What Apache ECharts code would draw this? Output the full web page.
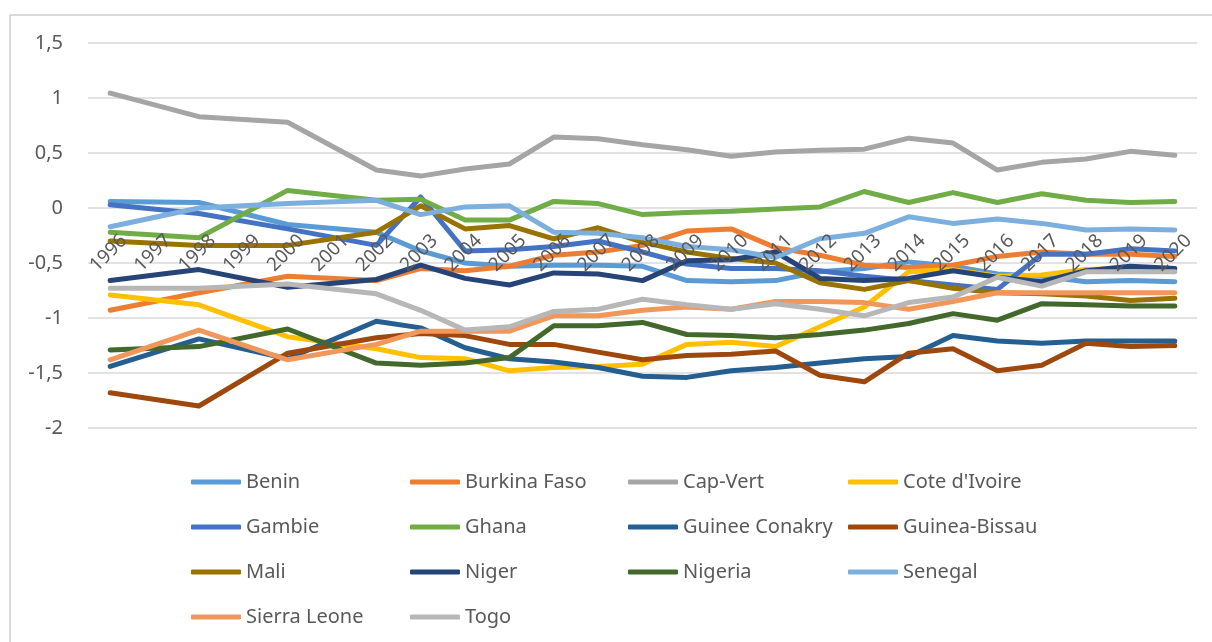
<!DOCTYPE html>
<html>
<head>
<meta charset="utf-8">
<script src="https://cdn.jsdelivr.net/npm/echarts@6/dist/echarts.min.js"></script>
<style>
  html, body { margin: 0; padding: 0; background: #fff; }
  #chart { width: 1212px; height: 642px; }
</style>
</head>
<body>
<div id="chart"></div>
<script>
// years on the category axis (1997, 1999, 2001 have no data)
const years = ['1996', '1997', '1998', '1999', '2000', '2001', '2002', '2003', '2004', '2005', '2006', '2007', '2008',
  '2009', '2010', '2011', '2012', '2013', '2014', '2015', '2016', '2017', '2018', '2019', '2020'];

const benin = [0.06, null, 0.05, null, -0.15, null, -0.22, -0.39, -0.50, -0.53, -0.52, -0.52, -0.53,
  -0.66, -0.67, -0.66, -0.58, -0.55, -0.49, -0.53, -0.60, -0.62, -0.67, -0.66, -0.67];
const burkinaFaso = [-0.93, null, -0.77, null, -0.62, null, -0.66, -0.55, -0.57, -0.53, -0.43, -0.40, -0.34,
  -0.21, -0.19, -0.36, -0.43, -0.52, -0.54, -0.52, -0.44, -0.40, -0.42, -0.42, -0.44];
const capVert = [1.045, null, 0.83, null, 0.78, null, 0.345, 0.29, 0.355, 0.40, 0.645, 0.63, 0.575,
  0.53, 0.47, 0.51, 0.525, 0.535, 0.635, 0.59, 0.345, 0.415, 0.445, 0.515, 0.48];
const coteIvoire = [-0.79, null, -0.88, null, -1.17, null, -1.28, -1.36, -1.37, -1.48, -1.45, -1.44, -1.42,
  -1.24, -1.22, -1.26, -1.08, -0.90, -0.58, -0.56, -0.62, -0.61, -0.56, -0.55, -0.56];
const gambie = [0.03, null, -0.05, null, -0.19, null, -0.34, 0.10, -0.39, -0.38, -0.35, -0.30, -0.40,
  -0.51, -0.55, -0.55, -0.57, -0.62, -0.66, -0.70, -0.74, -0.42, -0.42, -0.37, -0.39];
const ghana = [-0.22, null, -0.27, null, 0.16, null, 0.07, 0.08, -0.11, -0.11, 0.06, 0.04, -0.06,
  -0.04, -0.03, -0.01, 0.01, 0.15, 0.05, 0.14, 0.05, 0.13, 0.07, 0.05, 0.06];
const guineeConakry = [-1.44, null, -1.19, null, -1.37, null, -1.03, -1.09, -1.27, -1.37, -1.40, -1.45, -1.53,
  -1.54, -1.48, -1.45, -1.41, -1.37, -1.35, -1.16, -1.21, -1.23, -1.21, -1.21, -1.21];
const guineaBissau = [-1.68, null, -1.80, null, -1.32, null, -1.18, -1.14, -1.16, -1.24, -1.24, -1.31, -1.38,
  -1.34, -1.33, -1.30, -1.52, -1.58, -1.32, -1.28, -1.48, -1.43, -1.23, -1.26, -1.25];
const mali = [-0.30, null, -0.34, null, -0.34, null, -0.22, 0.02, -0.19, -0.16, -0.28, -0.18, -0.31,
  -0.40, -0.46, -0.50, -0.68, -0.74, -0.66, -0.73, -0.77, -0.78, -0.80, -0.84, -0.82];
const niger = [-0.66, null, -0.56, null, -0.72, null, -0.65, -0.52, -0.64, -0.70, -0.59, -0.60, -0.66,
  -0.48, -0.47, -0.40, -0.64, -0.66, -0.64, -0.57, -0.63, -0.67, -0.57, -0.53, -0.55];
const nigeria = [-1.29, null, -1.26, null, -1.10, null, -1.41, -1.43, -1.41, -1.36, -1.07, -1.07, -1.04,
  -1.15, -1.16, -1.18, -1.15, -1.11, -1.05, -0.96, -1.02, -0.87, -0.88, -0.89, -0.89];
const senegal = [-0.17, null, 0.0, null, 0.04, null, 0.07, -0.06, 0.01, 0.02, -0.22, -0.23, -0.27,
  -0.35, -0.38, -0.45, -0.28, -0.23, -0.08, -0.14, -0.10, -0.14, -0.20, -0.19, -0.20];
const sierraLeone = [-1.38, null, -1.11, null, -1.38, null, -1.24, -1.12, -1.12, -1.12, -0.98, -0.98, -0.93,
  -0.90, -0.92, -0.85, -0.85, -0.86, -0.92, -0.85, -0.77, -0.77, -0.77, -0.77, -0.77];
const togo = [-0.73, null, -0.73, null, -0.69, null, -0.78, -0.93, -1.11, -1.08, -0.94, -0.92, -0.83,
  -0.88, -0.92, -0.87, -0.92, -0.98, -0.86, -0.81, -0.63, -0.71, -0.58, -0.58, -0.58];

const countries = [
  { name: 'Benin', data: benin, color: '#5B9BD5' },
  { name: 'Burkina Faso', data: burkinaFaso, color: '#ED7D31' },
  { name: 'Cap-Vert', data: capVert, color: '#A5A5A5' },
  { name: "Cote d'Ivoire", data: coteIvoire, color: '#FFC000' },
  { name: 'Gambie', data: gambie, color: '#4472C4' },
  { name: 'Ghana', data: ghana, color: '#70AD47' },
  { name: 'Guinee Conakry', data: guineeConakry, color: '#255E91' },
  { name: 'Guinea-Bissau', data: guineaBissau, color: '#9E480E' },
  { name: 'Mali', data: mali, color: '#997300' },
  { name: 'Niger', data: niger, color: '#264478' },
  { name: 'Nigeria', data: nigeria, color: '#43682B' },
  { name: 'Senegal', data: senegal, color: '#7CAFDD' },
  { name: 'Sierra Leone', data: sierraLeone, color: '#F1975A' },
  { name: 'Togo', data: togo, color: '#B7B7B7' }
];

const font = 'Noto Sans';
const textColor = '#595959';
const gridColor = '#d9d9d9';

// legend in 4 columns, one legend per column so the columns line up
const legendColumns = [
  { left: 186, names: ['Benin', 'Gambie', 'Mali', 'Sierra Leone'] },
  { left: 405, names: ['Burkina Faso', 'Ghana', 'Niger', 'Togo'] },
  { left: 623, names: ['Cap-Vert', 'Guinee Conakry', 'Nigeria'] },
  { left: 843, names: ["Cote d'Ivoire", 'Guinea-Bissau', 'Senegal'] }
];

const chart = echarts.init(document.getElementById('chart'));

const option = {
  animation: false,
  backgroundColor: '#fff',
  color: countries.map(c => c.color),
  grid: { left: 88, right: 15, top: 43, bottom: 214 },
  graphic: [
    { type: 'line', shape: { x1: 10, y1: 15, x2: 1212, y2: 15 }, style: { stroke: gridColor, lineWidth: 2 } },
    { type: 'line', shape: { x1: 10, y1: 15, x2: 10, y2: 642 }, style: { stroke: gridColor, lineWidth: 2 } }
  ],
  legend: legendColumns.map(col => ({
    orient: 'vertical',
    left: col.left,
    top: 466,
    data: col.names,
    icon: 'roundRect',
    itemWidth: 50,
    itemHeight: 5,
    itemGap: 23,
    textStyle: { fontFamily: font, fontSize: 20, color: textColor, lineHeight: 22 }
  })),
  xAxis: {
    type: 'category',
    data: years,
    boundaryGap: true,
    // axis sits on the zero line (-2 .. 0 is 220px of the grid), labels above the lines
    offset: -220,
    z: 5,
    axisLine: { show: false, onZero: false },
    axisTick: { show: false },
    axisLabel: {
      interval: 0,
      rotate: 45,
      margin: 16,
      align: 'right',
      verticalAlign: 'top',
      padding: [10, 0, 0, 0],
      fontFamily: font,
      fontSize: 19,
      color: textColor
    }
  },
  yAxis: {
    type: 'value',
    min: -2,
    max: 1.5,
    interval: 0.5,
    axisLine: { show: false },
    axisTick: { show: false },
    splitLine: { lineStyle: { color: gridColor, width: 1.5 } },
    axisLabel: {
      margin: 25,
      fontFamily: font,
      fontSize: 20,
      color: textColor,
      formatter: v => String(v).replace('.', ',')
    }
  },
  series: countries.map(c => ({
    name: c.name,
    type: 'line',
    data: c.data,
    connectNulls: true,
    showSymbol: false,
    symbol: 'none',
    z: 3,
    lineStyle: { width: 5, color: c.color, cap: 'round', join: 'round' },
    itemStyle: { color: c.color }
  }))
};

chart.setOption(option);
</script>
</body>
</html>
